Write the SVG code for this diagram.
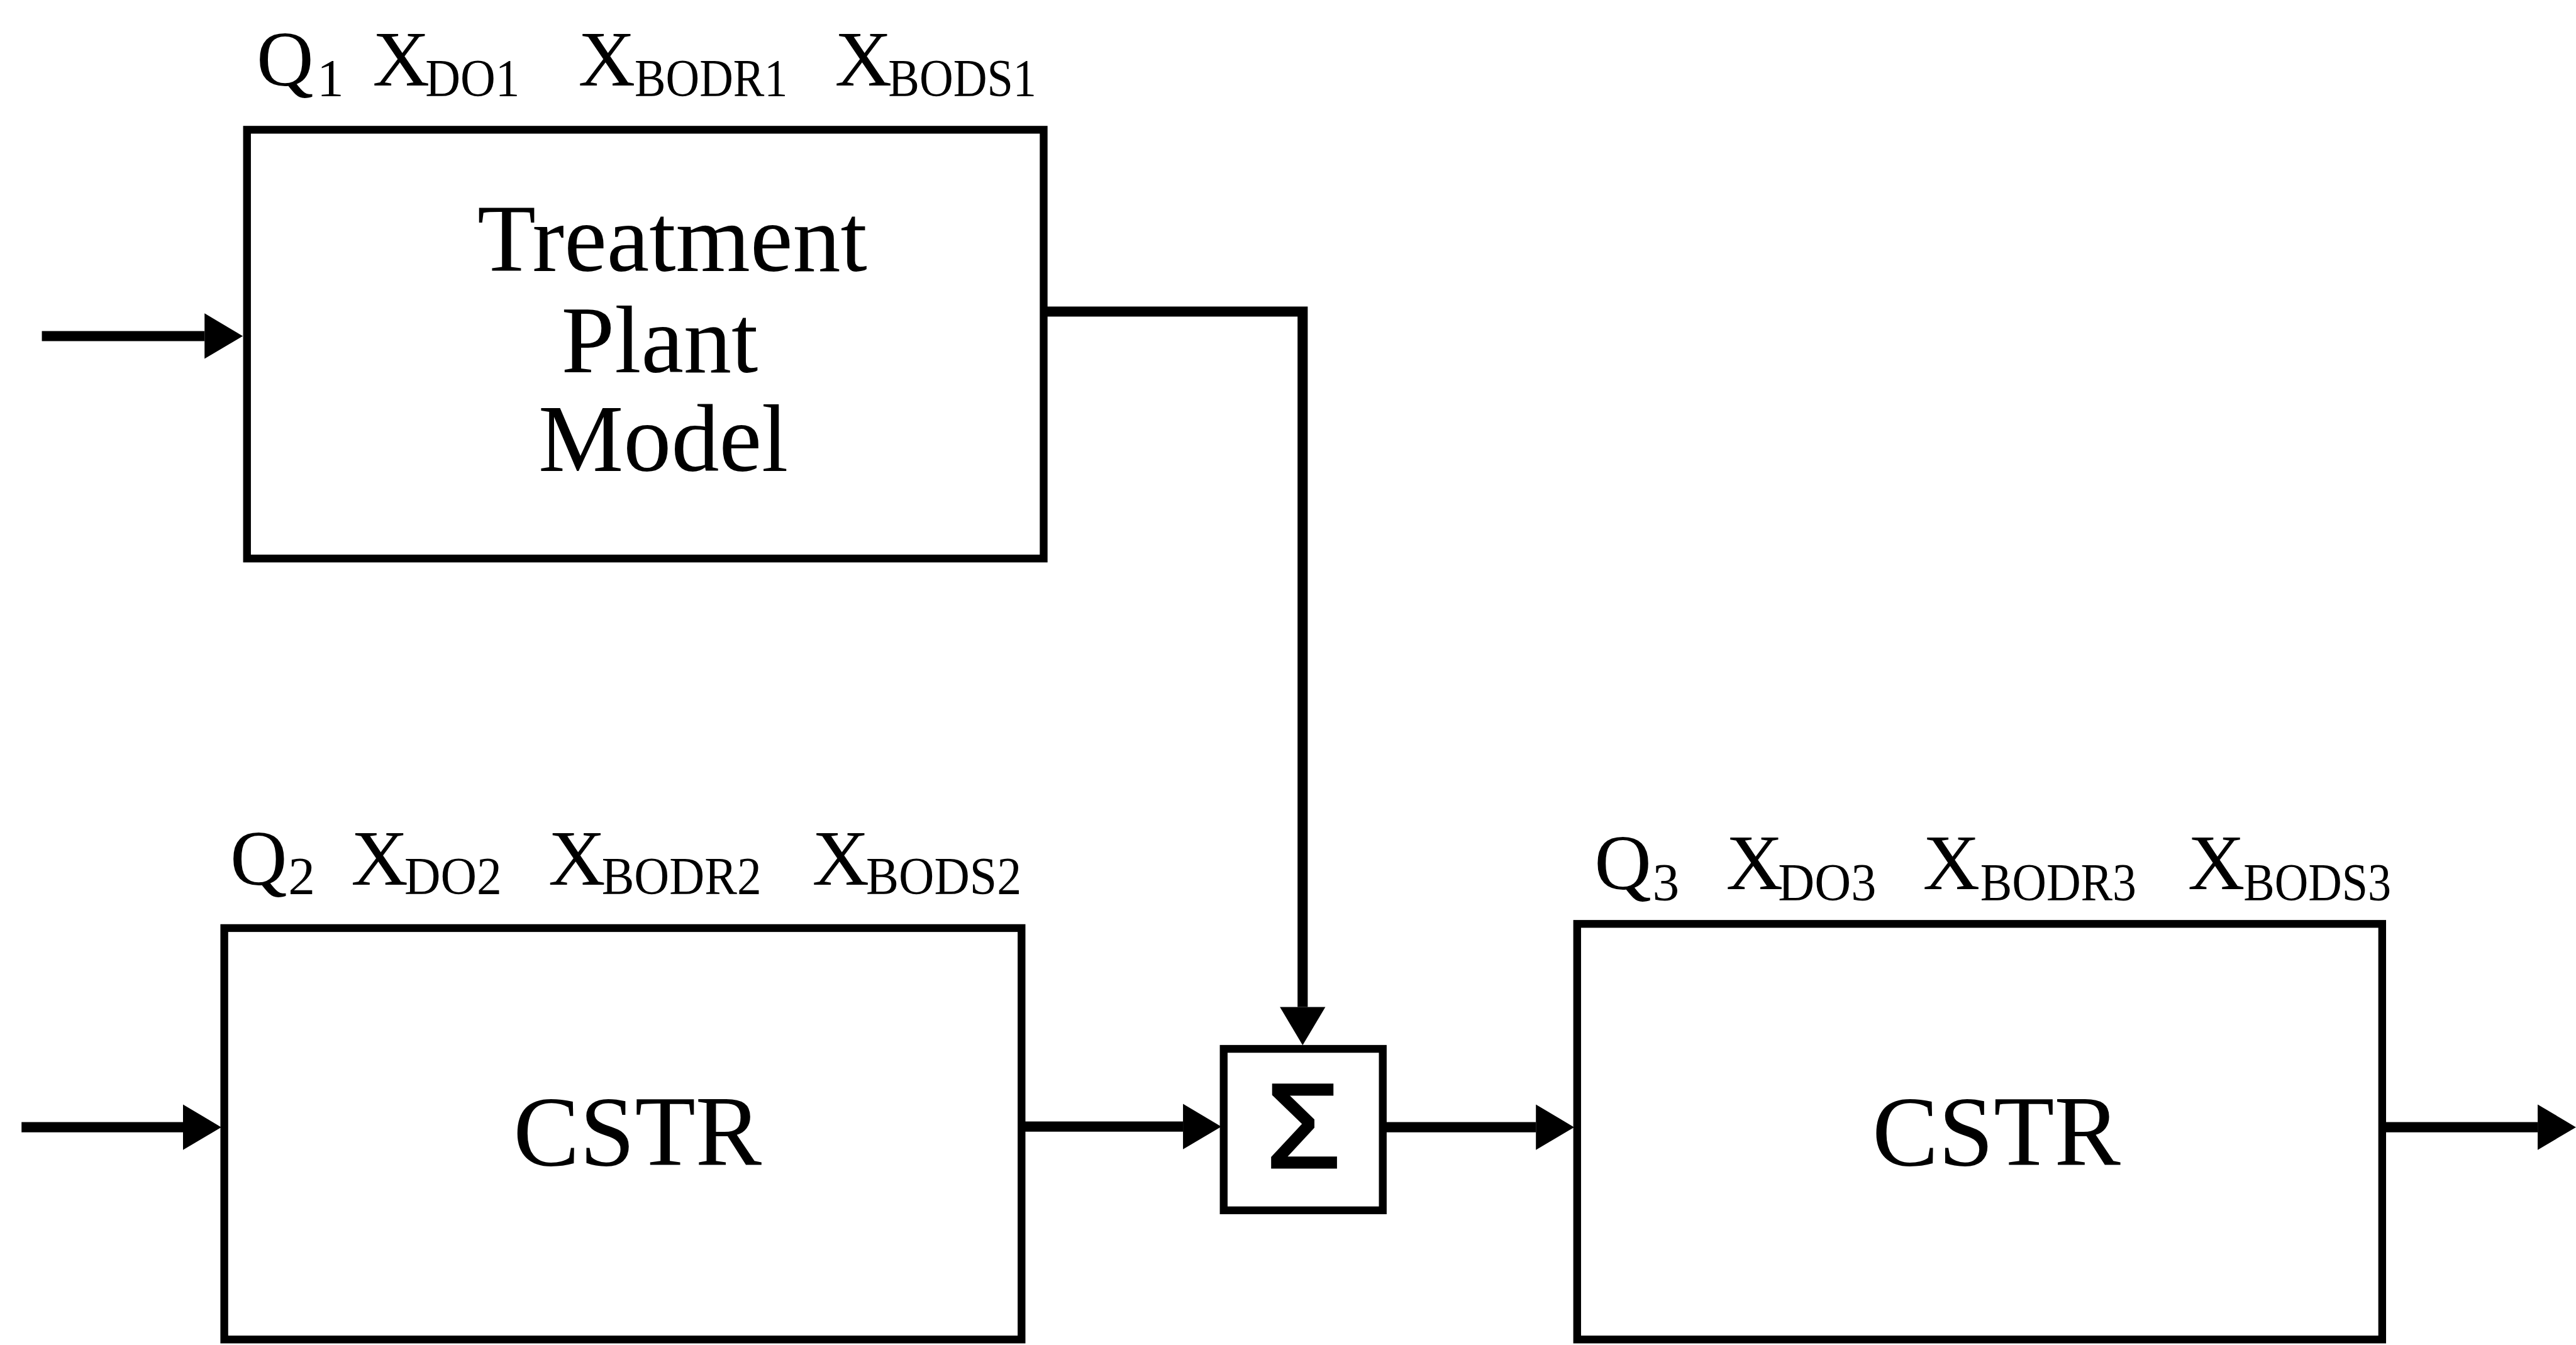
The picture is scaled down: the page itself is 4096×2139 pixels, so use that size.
<svg xmlns="http://www.w3.org/2000/svg" width="4096" height="2139" viewBox="0 0 4096 2139">
<style>
.box{fill:none;stroke:#000;stroke-width:13}
.conn{fill:none;stroke:#000;stroke-width:17}
.big{font-family:"Liberation Serif","Times New Roman",serif;font-size:160px;fill:#000;text-anchor:middle}
.lbl{font-family:"Liberation Serif","Times New Roman",serif;font-size:132px;fill:#000}
.sub{font-size:90px}
.sig{font-family:"Liberation Sans",Arial,sans-serif;font-size:200px;fill:#000;stroke:#000;stroke-width:5;text-anchor:middle}
</style>
<defs>
<marker id="ah" markerUnits="userSpaceOnUse" markerWidth="70" markerHeight="80" viewBox="0 -40 66 80" refX="0" refY="0" orient="auto">
<path d="M0,-38 L64,0 L0,38 Z" fill="#000"/>
</marker>
</defs>
<rect width="4096" height="2139" fill="#fff"/>
<g transform="scale(0.951)">
<g id="connectors">
<line class="conn" x1="70" y1="562" x2="342" y2="562" marker-end="url(#ah)"/>
<polyline class="conn" points="1745,521 2178,521 2178,1684" marker-end="url(#ah)"/>
<line class="conn" x1="36" y1="1885" x2="306" y2="1885" marker-end="url(#ah)"/>
<line class="conn" x1="1708" y1="1884" x2="1978" y2="1884" marker-end="url(#ah)"/>
<line class="conn" x1="2312" y1="1885" x2="2568" y2="1885" marker-end="url(#ah)"/>
<line class="conn" x1="3983" y1="1885" x2="4243" y2="1885" marker-end="url(#ah)"/>
</g>
<g id="treatment-plant">
<rect class="box" x="413" y="217" width="1332" height="717"/>
<text class="big" x="1124" y="453">Treatment</text>
<text class="big" x="1103" y="622">Plant</text>
<text class="big" x="1109" y="788">Model</text>
</g>
<g id="labels-1">
<text class="lbl" x="429" y="143">Q<tspan class="sub" x="530" y="161">1</tspan></text>
<text class="lbl" x="623" y="143">X<tspan class="sub" x="711" y="161" textLength="158" lengthAdjust="spacingAndGlyphs">DO1</tspan></text>
<text class="lbl" x="967" y="143">X<tspan class="sub" x="1061" y="161" textLength="256" lengthAdjust="spacingAndGlyphs">BODR1</tspan></text>
<text class="lbl" x="1396" y="143">X<tspan class="sub" x="1485" y="161" textLength="248" lengthAdjust="spacingAndGlyphs">BODS1</tspan></text>
</g>
<g id="cstr-2">
<rect class="box" x="375" y="1552" width="1333" height="688"/>
<text class="big" x="1066" y="1949" style="font-size:166px">CSTR</text>
</g>
<g id="labels-2">
<text class="lbl" x="385" y="1479">Q<tspan class="sub" x="482" y="1495">2</tspan></text>
<text class="lbl" x="587" y="1479">X<tspan class="sub" x="676" y="1495" textLength="163" lengthAdjust="spacingAndGlyphs">DO2</tspan></text>
<text class="lbl" x="917" y="1479">X<tspan class="sub" x="1006" y="1495" textLength="267" lengthAdjust="spacingAndGlyphs">BODR2</tspan></text>
<text class="lbl" x="1358" y="1479">X<tspan class="sub" x="1448" y="1495" textLength="260" lengthAdjust="spacingAndGlyphs">BODS2</tspan></text>
</g>
<g id="sum">
<rect class="box" x="2046" y="1754" width="266" height="270"/>
<text class="sig" x="2179" y="1952">Σ</text>
</g>
<g id="cstr-3">
<rect class="box" x="2637" y="1545" width="1346" height="695"/>
<text class="big" x="3338" y="1949" style="font-size:166px">CSTR</text>
</g>
<g id="labels-3">
<text class="lbl" x="2666" y="1487">Q<tspan class="sub" x="2763" y="1506">3</tspan></text>
<text class="lbl" x="2886" y="1487">X<tspan class="sub" x="2973" y="1506" textLength="164" lengthAdjust="spacingAndGlyphs">DO3</tspan></text>
<text class="lbl" x="3215" y="1487">X<tspan class="sub" x="3311" y="1506" textLength="261" lengthAdjust="spacingAndGlyphs">BODR3</tspan></text>
<text class="lbl" x="3658" y="1487">X<tspan class="sub" x="3751" y="1506" textLength="247" lengthAdjust="spacingAndGlyphs">BODS3</tspan></text>
</g>
</g>
</svg>
